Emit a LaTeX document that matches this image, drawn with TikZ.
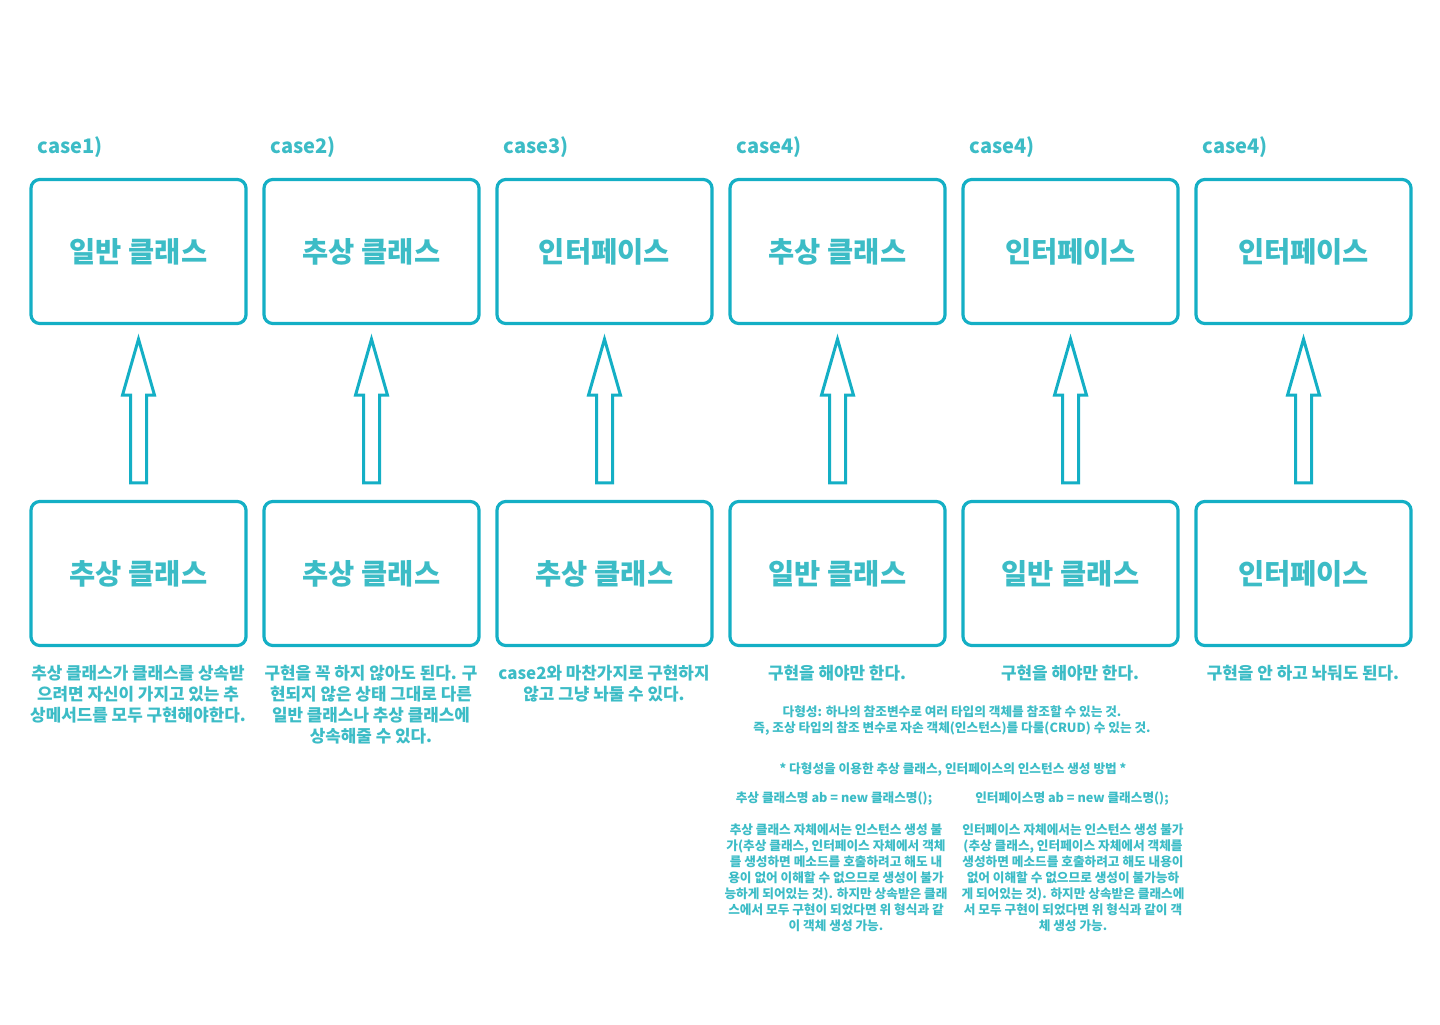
\documentclass[tikz,border=0pt]{standalone}
\usepackage{fontspec}
\setmainfont{Noto Sans CJK KR}
\usepackage{tikz}
\usetikzlibrary{calc,positioning}
\definecolor{boxteal}{HTML}{14AFC5}
\definecolor{txtteal}{HTML}{3CBCC6}
\tikzset{%
	classbox/.style = {draw=boxteal, line width=0.032cm, rounded corners=0.09cm, minimum width=2.15cm, minimum height=1.44cm, text=txtteal, font=\fontsize{8.1}{9}\selectfont\bfseries},
	caselbl/.style  = {anchor=west, inner sep=0pt, text=txtteal, font=\fontsize{5.7}{7}\selectfont\bfseries},
	desc/.style     = {anchor=north, align=center, inner sep=0pt, text=txtteal, font=\fontsize{4.8}{5.97}\selectfont\bfseries},
	note/.style     = {anchor=north, align=center, inner sep=0pt, text=txtteal, font=\fontsize{3.6}{4.55}\selectfont\bfseries},
	hollow/.style   = {draw=boxteal, line width=0.03cm, fill=white},
}

\begin{document}
\begin{tikzpicture}[x=0.01cm,y=-0.01cm]
	\useasboundingbox (0,0) rectangle (1440,1024);
	
	\foreach \i/\up/\low/\cs in {1/일반 클래스/추상 클래스/1, 2/추상 클래스/추상 클래스/2, 3/인터페이스/추상 클래스/3, 4/추상 클래스/일반 클래스/4, 5/인터페이스/일반 클래스/4, 6/인터페이스/인터페이스/4} {
		\node[classbox] (t\i) at (\i*233-94.5,251.5) {\up};
		\node[classbox] (b\i) at (\i*233-94.5,573.5) {\low};
		\node[caselbl] (c\i) at (\i*233-196,147) {case\cs)};
	}
	
	\foreach \i in {1,...,6} \draw[hollow] ($(b\i.north)+(-8,-17)$) -- ($(t\i.south)+(-8,70)$) -- ($(t\i.south)+(-16,70)$) -- ($(t\i.south)+(0,14)$) -- ($(t\i.south)+(16,70)$) -- ($(t\i.south)+(8,70)$) -- ($(b\i.north)+(8,-17)$) -- cycle;
	
	\foreach \i/\txt in {1/{추상 클래스가 클래스를 상속받\\으려면 자신이 가지고 있는 추\\상메서드를 모두 구현해야한다.}, 2/{구현을 꼭 하지 않아도 된다. 구\\현되지 않은 상태 그대로 다른\\일반 클래스나 추상 클래스에\\상속해줄 수 있다.}, 3/{case2와 마찬가지로 구현하지\\않고 그냥 놔둘 수 있다.}, 4/{구현을 해야만 한다.}, 5/{구현을 해야만 한다.}, 6/{구현을 안 하고 놔둬도 된다.}} \node[desc] (d\i) at (\i*233-95,664.5) {\txt};
	
	\node[note] (poly) at (952,705.5) {다형성: 하나의 참조변수로 여러 타입의 객체를 참조할 수 있는 것.\\즉, 조상 타입의 참조 변수로 자손 객체(인스턴스)를 다룰(CRUD) 수 있는 것.};
	\node[note] (how) at (953,762.5) {* 다형성을 이용한 추상 클래스, 인터페이스의 인스턴스 생성 방법 *};
	\node[note] (absnew) at (834,791.5) {추상 클래스명 ab = new 클래스명();};
	\node[note] (ifnew) at (1072,791.5) {인터페이스명 ab = new 클래스명();};
	\node[note] (absnote) at (836,823.5) {추상 클래스 자체에서는 인스턴스 생성 불\\가(추상 클래스, 인터페이스 자체에서 객체\\를 생성하면 메소드를 호출하려고 해도 내\\용이 없어 이해할 수 없으므로 생성이 불가\\능하게 되어있는 것). 하지만 상속받은 클래\\스에서 모두 구현이 되었다면 위 형식과 같\\이 객체 생성 가능.};
	\node[note] (ifnote) at (1073,823.5) {인터페이스 자체에서는 인스턴스 생성 불가\\(추상 클래스, 인터페이스 자체에서 객체를\\생성하면 메소드를 호출하려고 해도 내용이\\없어 이해할 수 없으므로 생성이 불가능하\\게 되어있는 것). 하지만 상속받은 클래스에\\서 모두 구현이 되었다면 위 형식과 같이 객\\체 생성 가능.};
\end{tikzpicture}
\end{document}
